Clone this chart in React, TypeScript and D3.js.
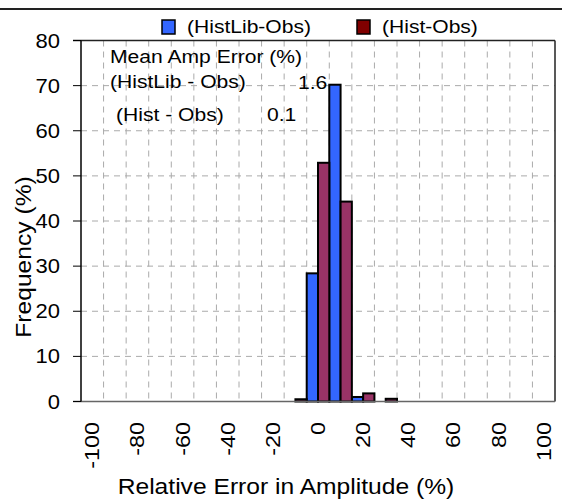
import React from "react";
import * as d3 from "d3";

const categories = [-100, -90, -80, -70, -60, -50, -40, -30, -20, -10, 0, 10, 20, 30, 40, 50, 60, 70, 80, 90, 100];
const histLibObs = [0, 0, 0, 0, 0, 0, 0, 0, 0, 0, 28.4, 70.2, 1.0, 0, 0, 0, 0, 0, 0, 0, 0];
const histObs = [0, 0, 0, 0, 0, 0, 0, 0, 0, 0.5, 52.9, 44.3, 1.8, 0.6, 0, 0, 0, 0, 0, 0, 0];
const seriesNames = ["(HistLib-Obs)", "(Hist-Obs)"];
const barColors = ["#3366FF", "#993366"];
const legendColors = ["#3366FF", "#800000"];
const yTicks = [0, 10, 20, 30, 40, 50, 60, 70, 80];
const xTickLabels = [-100, -80, -60, -40, -20, 0, 20, 40, 60, 80, 100];
const annotationTitle = "Mean Amp Error (%)";
const annotationRows = [
  { label: "(HistLib - Obs)", value: "1.6" },
  { label: "(Hist - Obs)", value: "0.1" },
];

const W = 562;
const H = 501;
const M = { left: 81, right: 555, top: 40.5, bottom: 401.5 };
const SX = 1.17;
const FONT = "'Liberation Sans', Arial, Helvetica, sans-serif";

function T({ x, y, rot = 0, size, anchor = "start", children, sx = SX }: any) {
  return (
    <text
      transform={`translate(${x},${y}) rotate(${rot}) scale(${sx},1)`}
      fontSize={size}
      textAnchor={anchor}
      fontFamily={FONT}
      fill="#000"
    >
      {children}
    </text>
  );
}

export default function App() {
  const x = d3.scaleBand<number>().domain(categories).range([M.left, M.right]).padding(0);
  const xs = d3.scaleBand<number>().domain([0, 1]).range([0, x.bandwidth()]).padding(0);
  const y = d3.scaleLinear().domain([0, 80]).range([M.bottom, M.top]);
  const series = [histLibObs, histObs];

  return (
    <svg width={W} height={H} style={{ position: "absolute", left: 0, top: 0, background: "#fff" }}>
      <rect x={0} y={0} width={W} height={H} fill="#fff" />
      <line x1={0} x2={W} y1={9} y2={9} stroke="#222" strokeWidth={2} />

      {yTicks.filter((t) => t > 0 && t < 80).map((t) => (
        <line key={"h" + t} x1={M.left} x2={M.right} y1={y(t)} y2={y(t)} stroke="#aaa" strokeWidth={1} strokeDasharray="6,5" />
      ))}
      {categories.slice(1).map((c) => (
        <line key={"v" + c} x1={x(c)!} x2={x(c)!} y1={M.top} y2={M.bottom} stroke="#aaa" strokeWidth={1} strokeDasharray="6,5" />
      ))}

      <T x={110} y={63} size={18.5} sx={1.14}>{annotationTitle}</T>
      <T x={110} y={88} size={18.5} sx={1.14}>{annotationRows[0].label}</T>
      <T x={298} y={89} size={18.5} sx={1.14}>{annotationRows[0].value}</T>
      <T x={116} y={121} size={18.5} sx={1.14}>{annotationRows[1].label}</T>
      <T x={267} y={121} size={18.5} sx={1.14}>{annotationRows[1].value}</T>

      {series.map((vals, si) =>
        vals.map((v, i) =>
          v > 0 ? (
            <rect
              key={si + "-" + i}
              x={x(categories[i])! + xs(si)!}
              y={y(v)}
              width={xs.bandwidth()}
              height={y(0) - y(v)}
              fill={barColors[si]}
              stroke="#000"
              strokeWidth={2}
            />
          ) : null
        )
      )}

      <line x1={73} x2={M.right} y1={M.top} y2={M.top} stroke="#222" strokeWidth={1.5} />
      <line x1={M.right} x2={M.right} y1={M.top} y2={M.bottom} stroke="#222" strokeWidth={1.5} />
      <line x1={73} x2={M.right} y1={M.bottom} y2={M.bottom} stroke="#666" strokeWidth={1.5} />
      <line x1={M.left} x2={M.left} y1={M.top} y2={M.bottom} stroke="#000" strokeWidth={1.5} />
      {yTicks.map((t) => (
        <line key={"t" + t} x1={73} x2={M.left} y1={y(t)} y2={y(t)} stroke="#000" strokeWidth={1} />
      ))}

      {yTicks.map((t) => (
        <T key={"yl" + t} x={60} y={y(t) + 7} size={20} anchor="end" sx={1.1}>{t}</T>
      ))}

      {xTickLabels.map((t) => (
        <T key={"xl" + t} x={x(t)! + x.bandwidth() / 2 + 7} y={422} rot={-90} size={20} anchor="end" sx={1.17}>{t}</T>
      ))}

      <T x={286} y={494} size={22} anchor="middle" sx={1.12}>Relative Error in Amplitude (%)</T>
      <T x={31} y={257} rot={-90} size={22} anchor="middle" sx={1.12}>Frequency (%)</T>

      {seriesNames.map((n, i) => {
        const lx = [162, 357][i];
        const tx = [187, 382][i];
        return (
          <g key={n}>
            <rect x={lx} y={20} width={13} height={14} fill={legendColors[i]} stroke="#000" strokeWidth={1.5} />
            <T x={tx} y={33} size={18}>{n}</T>
          </g>
        );
      })}
    </svg>
  );
}
